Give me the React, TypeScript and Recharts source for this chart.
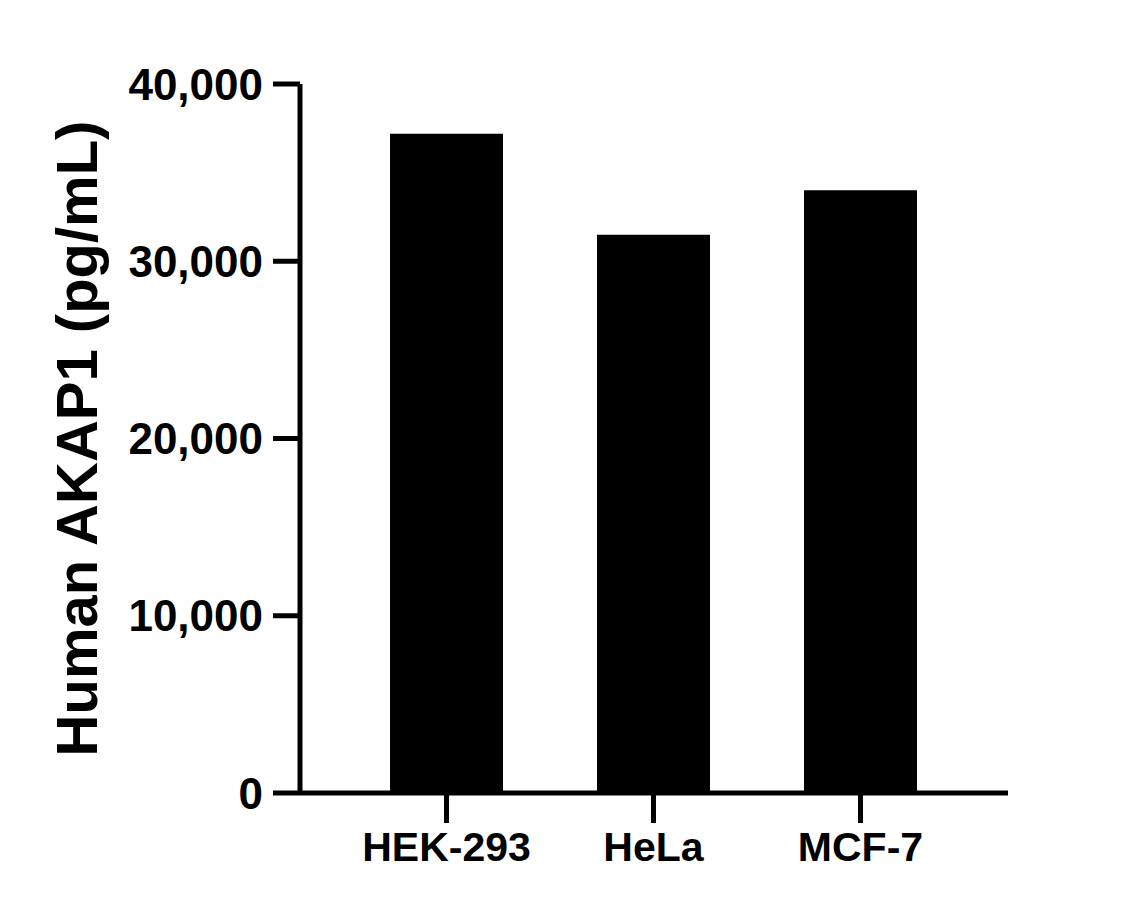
import { BarChart, Bar, XAxis, YAxis } from "recharts";

const cellLines = ["HEK-293", "HeLa", "MCF-7"];
const akap1Values = [37200, 31500, 34000];
const yTicks = [0, 10000, 20000, 30000, 40000];

const data = cellLines.map((name, i) => ({ name, value: akap1Values[i] }));

const FONT = "'Liberation Sans', Arial, sans-serif";

function YTitle({ viewBox }: any) {
  const x = viewBox.x + 97;
  const y = viewBox.y + viewBox.height / 2;
  return (
    <text x={x} y={y} transform={`rotate(-90, ${x}, ${y})`} textAnchor="middle"
      fontFamily={FONT} fontWeight="bold" fontSize={58} fill="#000">
      Human AKAP1 (pg/mL)
    </text>
  );
}

export default function App() {
  return (
    <div style={{ margin: -8, width: 1141, height: 910, background: "#fff" }}>
      <BarChart width={1141} height={910} data={data}
        margin={{ top: 84, right: 133, bottom: 0, left: 0 }}>
        <XAxis dataKey="name" height={117} padding={{ left: 43, right: 44 }}
          axisLine={{ stroke: "#000", strokeWidth: 5 }}
          tickLine={{ stroke: "#000", strokeWidth: 5 }}
          tickSize={30} tickMargin={9}
          tick={{ fill: "#000", fontSize: 41, fontWeight: "bold", fontFamily: FONT }} />
        <YAxis width={300} domain={[0, 40000]} ticks={yTicks} interval={0}
          tickFormatter={(v: number) => v.toLocaleString("en-US")}
          axisLine={{ stroke: "#000", strokeWidth: 5 }}
          tickLine={{ stroke: "#000", strokeWidth: 5 }}
          tickSize={27} tickMargin={10}
          tick={{ fill: "#000", fontSize: 44, fontWeight: "bold", fontFamily: FONT }}
          label={{ content: YTitle }} />
        <Bar dataKey="value" fill="#000" barSize={113} isAnimationActive={false} />
      </BarChart>
    </div>
  );
}
